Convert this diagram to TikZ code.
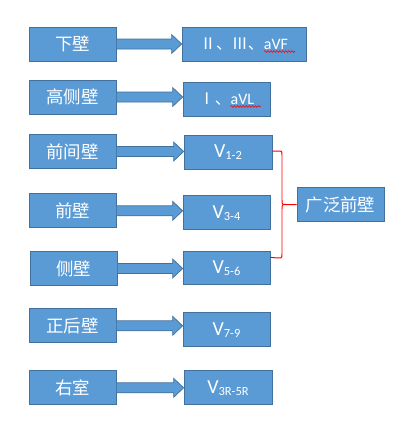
\documentclass[tikz,border=0pt]{standalone}
\usepackage{fontspec}
\usepackage{tikz}
\usetikzlibrary{calc,decorations.pathmorphing}
\setmainfont{Carlito}
\newfontfamily\cjk{Noto Sans CJK SC}
\definecolor{fillblue}{HTML}{5B9BD5}
\definecolor{edgeblue}{HTML}{41719C}
\newcommand\lowidx[1]{\raisebox{-2pt}{\fontsize{12.5}{13}\selectfont #1}}
\tikzset{
  blocknode/.style = {align=center, inner sep=0pt, text centered, draw=edgeblue, fill=fillblue, text=white, line width=0.75pt},
  wall/.style = {blocknode, minimum width=87bp, minimum height=34bp, font=\cjk\fontsize{17.5}{19}\selectfont},
  lead/.style = {blocknode, minimum width=87bp, minimum height=34bp, font=\fontsize{20}{22}\selectfont},
  lead_s/.style = {lead, font=\fontsize{16}{18}\selectfont},
  arrow_b/.style = {draw=edgeblue, fill=fillblue, line width=0.75pt, to path={
    ($(\tikztostart)+(0,-5)$) -- ($(\tikztotarget |- \tikztostart)+(-10,-5)$)
    -- ($(\tikztotarget |- \tikztostart)+(-10,-9.5)$) -- (\tikztotarget |- \tikztostart)
    -- ($(\tikztotarget |- \tikztostart)+(-10,9.5)$) -- ($(\tikztotarget |- \tikztostart)+(-10,5)$)
    -- ($(\tikztostart)+(0,5)$) -- cycle}},
  brace/.style = {draw=red, line width=1pt},
  spellwave/.style = {draw=red, line width=0.6pt, decorate, decoration={snake, amplitude=0.9bp, segment length=3bp}},
}
\begin{document}
\begin{tikzpicture}[x=1bp, y=-1bp]
  \useasboundingbox (0,0) rectangle (420,422);
  % walls
  \node [wall] (w1) at (72.5,44) {下壁};
  \node [wall] (w2) at (72.5,97) {高侧壁};
  \node [wall] (w3) at (72.5,151.5) {前间壁};
  \node [wall] (w4) at (72.5,210.8) {前壁};
  \node [wall] (w5) at (73.5,268.5) {侧壁};
  \node [wall] (w6) at (72.5,325.8) {正后壁};
  \node [wall] (w7) at (72.5,387.8) {右室};
  % leads
  \node [lead_s, minimum width=124bp] (l1) at (244,44) {{\cjk Ⅱ、Ⅲ、}aVF};
  \node [lead_s] (l2) at (226.5,99) {{\cjk Ⅰ、}aVL};
  \node [lead, minimum width=88bp] (l3) at (228,152.3) {V\lowidx{1-2}};
  \node [lead] (l4) at (226.5,212.7) {V\lowidx{3-4}};
  \node [lead, minimum height=32.5bp] (l5) at (226.5,268) {V\lowidx{5-6}};
  \node [lead] (l6) at (226.5,329.8) {V\lowidx{7-9}};
  \node [lead, minimum width=88bp] (l7) at (228,387.8) {V\lowidx{3R-5R}};
  \node [wall] (wide) at (340.5,204.8) {广泛前壁};
  \foreach \i in {1,...,7}
    \draw [arrow_b] (w\i.east) to (l\i.west);
  % spelling marks
  \draw [spellwave] ($(l1.center)+(20,7.5)$) -- ++(31,0);
  \draw [spellwave] ($(l2.center)+(4,7.5)$) -- ++(30,0);
  % brace
  \coordinate (tip) at (286,204.5);
  \draw [brace] (l3.east |- 0,151) -- (278,151) .. controls (282,151) .. (282,155)
    -- (282,200) .. controls (282,204.5) .. (tip) -- (wide.west |- tip);
  \draw [brace] ($(l5.north east)+(0,6)$) -- (278,258) .. controls (282,258) .. (282,254)
    -- (282,209) .. controls (282,204.5) .. (tip);
\end{tikzpicture}
\end{document}
